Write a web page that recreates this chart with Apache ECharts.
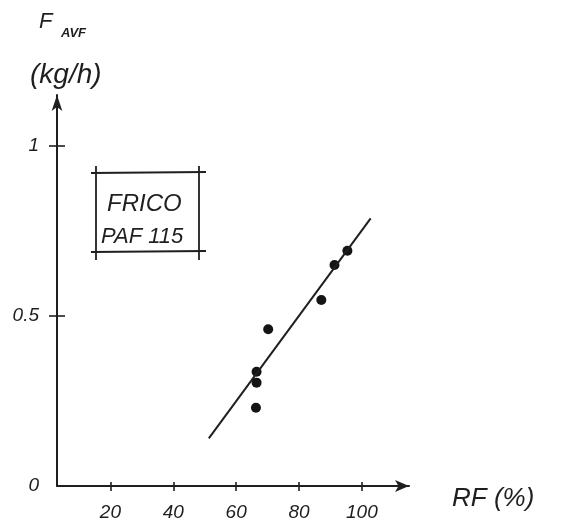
<!DOCTYPE html>
<html>
<head>
<meta charset="utf-8">
<script src="https://cdn.jsdelivr.net/npm/echarts@6/dist/echarts.min.js"></script>
<style>
  html, body { margin: 0; padding: 0; background: #fff; }
  #chart { width: 568px; height: 531px; }
</style>
</head>
<body>
<div id="chart"></div>
<script>
// Measured air-heater output versus relative humidity
const rfValues   = [66.5, 66.5, 66.3, 70.2, 87.1, 91.3, 95.4];
const favfValues = [0.336, 0.304, 0.230, 0.461, 0.547, 0.650, 0.692];

// Fitted trend line, two end points
const rfLine   = [51.3, 102.8];
const favfLine = [0.140, 0.787];

// Tick labels
const xTicks = [20, 40, 60, 80, 100];
const yTicks = [0, 0.5, 1];
const yTickMarks = [0.5, 1];

const ink = '#1f1f1f';
const handFont = 'Liberation Sans';

function label(text, left, top, size, weight) {
  return {
    type: 'text', left, top,
    style: {
      text, fill: ink, fontFamily: handFont, fontStyle: 'italic',
      fontSize: size, fontWeight: weight || 'normal'
    }
  };
}

function stroke(x1, y1, x2, y2) {
  return { type: 'line', shape: { x1, y1, x2, y2 }, style: { stroke: ink, lineWidth: 1.8 } };
}

const chart = echarts.init(document.getElementById('chart'));

const xRange = { min: 3, max: 115 };
const yRange = { min: 0, max: 1.15 };

chart.setOption({
  backgroundColor: '#fff',
  animation: false,
  grid: { left: 57, right: 568 - 57 - 352, top: 95, bottom: 45 },
  xAxis: [
    {
      type: 'value', position: 'bottom', ...xRange,
      splitLine: { show: false },
      axisLine: { lineStyle: { color: ink, width: 2 }, symbol: ['none', 'arrow'], symbolSize: [9, 14] },
      axisTick: { customValues: xTicks, length: 5, lineStyle: { color: ink, width: 1.6 } },
      axisLabel: {
        customValues: xTicks, margin: 17, color: ink,
        fontFamily: handFont, fontStyle: 'italic', fontSize: 19
      }
    },
    {
      type: 'value', position: 'bottom', ...xRange,
      splitLine: { show: false },
      axisLine: { show: false },
      axisTick: { customValues: xTicks, inside: true, length: 4, lineStyle: { color: ink, width: 1.6 } },
      axisLabel: { show: false }
    }
  ],
  yAxis: [
    {
      type: 'value', position: 'left', ...yRange,
      splitLine: { show: false },
      axisLine: { lineStyle: { color: ink, width: 2 }, symbol: ['none', 'arrow'], symbolSize: [8, 16] },
      axisTick: { customValues: yTickMarks, length: 8, lineStyle: { color: ink, width: 1.6 } },
      axisLabel: {
        customValues: yTicks, margin: 18, color: ink,
        fontFamily: handFont, fontStyle: 'italic', fontSize: 19
      }
    },
    {
      type: 'value', position: 'left', ...yRange,
      splitLine: { show: false },
      axisLine: { show: false },
      axisTick: { customValues: yTickMarks, inside: true, length: 8, lineStyle: { color: ink, width: 1.6 } },
      axisLabel: { show: false }
    }
  ],
  graphic: [
    // axis titles
    label('F', 39, 11, 22),
    label('AVF', 61, 27, 13, 'bold'),
    label('(kg/h)', 30, 61, 28),
    label('RF (%)', 452, 486, 26),
    // label box with crossing corners
    stroke(91, 173, 206, 172),
    stroke(91, 252, 206, 251),
    stroke(96, 166, 96, 260),
    stroke(199, 166, 199, 260),
    label('FRICO', 107, 192, 24),
    label('PAF 115', 101, 226, 22)
  ],
  series: [
    {
      type: 'line',
      xAxisIndex: 0, yAxisIndex: 0,
      data: rfLine.map((x, i) => [x, favfLine[i]]),
      symbol: 'none',
      lineStyle: { color: ink, width: 2 }
    },
    {
      type: 'scatter',
      xAxisIndex: 0, yAxisIndex: 0,
      data: rfValues.map((x, i) => [x, favfValues[i]]),
      symbolSize: 10,
      itemStyle: { color: '#141414', opacity: 1 }
    }
  ]
});
</script>
</body>
</html>
